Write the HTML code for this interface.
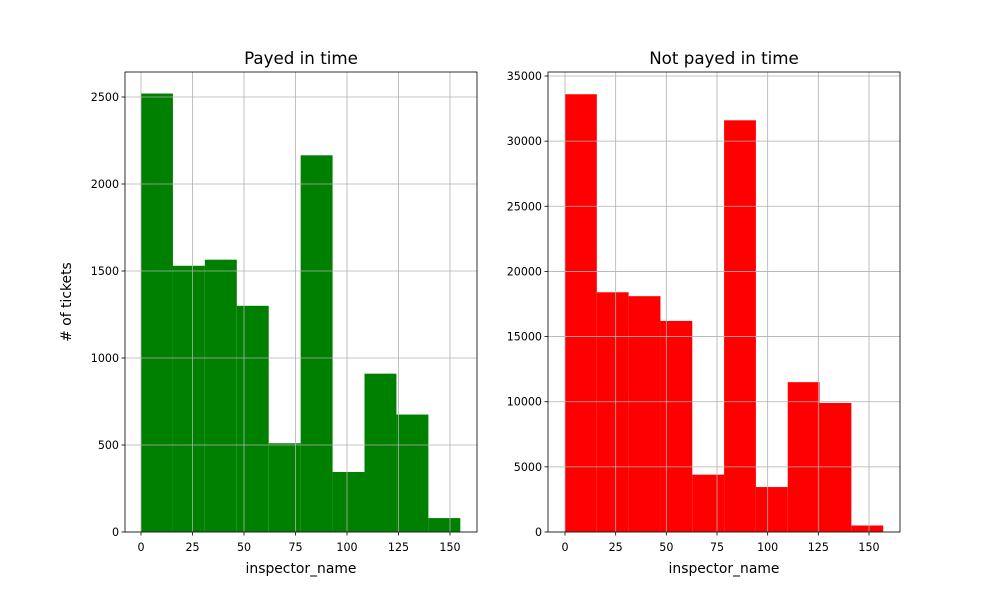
<!DOCTYPE html>
<html><head><meta charset="utf-8"><style>
body{margin:0;background:#fff;font-family:"Liberation Sans","DejaVu Sans",sans-serif;}
svg text{font-family:"DejaVu Sans","Liberation Sans",sans-serif;}
</style></head><body>
<svg id="chart" width="1000" height="598" xmlns="http://www.w3.org/2000/svg"></svg>
<script>
const leftEdges=[0,15.5,31,46.5,62,77.5,93,108.5,124,139.5,155];
const leftCounts=[2520,1530,1565,1300,510,2165,345,910,675,80];
const leftYTicks=[0,500,1000,1500,2000,2500];
const rightEdges=[0,15.7,31.4,47.1,62.8,78.5,94.2,109.9,125.6,141.3,157];
const rightCounts=[33600,18400,18100,16200,4400,31600,3450,11500,9900,500];
const rightYTicks=[0,5000,10000,15000,20000,25000,30000,35000];
const xTicks=[0,25,50,75,100,125,150];
const NS='http://www.w3.org/2000/svg';
const svg=document.getElementById('chart');
function mk(tag,attrs,parent){const e=document.createElementNS(NS,tag);for(const k in attrs)e.setAttribute(k,attrs[k]);(parent||svg).appendChild(e);return e;}
function panel(cfg){
  const g=mk('g',{});
  
  
  const L=cfg.x0,R=cfg.x1,T=72,B=532;
  const xs=v=>cfg.px0+(v-0)*(cfg.px150-cfg.px0)/150;
  const ys=v=>B-v*cfg.ky;
  for(let i=0;i<cfg.counts.length;i++){
    const r=mk('rect',{x:xs(cfg.edges[i]),y:ys(cfg.counts[i]),width:xs(cfg.edges[i+1])-xs(cfg.edges[i]),height:B-ys(cfg.counts[i]),fill:cfg.color},g);
    
    
  }
  xTicks.forEach(t=>{const x=xs(t);
    mk('line',{x1:x,x2:x,y1:T,y2:B,stroke:'#b0b0b0','stroke-width':0.8},g);
    mk('line',{x1:x,x2:x,y1:B,y2:B+3.5,stroke:'#000','stroke-width':0.8},g);
    const tx=mk('text',{x:x,y:B+19,'text-anchor':'middle','font-size':11.1},g);tx.textContent=t;
    });
  cfg.yTicks.forEach(t=>{const y=ys(t);
    mk('line',{x1:L,x2:R,y1:y,y2:y,stroke:'#b0b0b0','stroke-width':0.8},g);
    mk('line',{x1:L-3.5,x2:L,y1:y,y2:y,stroke:'#000','stroke-width':0.8},g);
    const tx=mk('text',{x:L-6,y:y+4,'text-anchor':'end','font-size':11.1},g);tx.textContent=t;
    });
  mk('rect',{x:L,y:T,width:R-L,height:B-T,fill:'none',stroke:'#000','stroke-width':0.8},g);
  const ti=mk('text',{x:(L+R)/2,y:T-8,'text-anchor':'middle','font-size':16.7},g);ti.textContent=cfg.title;
  
  const xl=mk('text',{x:(L+R)/2,y:573,'text-anchor':'middle','font-size':13.9},g);xl.textContent='inspector_name';
  
  if(cfg.ylabel){const yl=mk('text',{x:71,y:(T+B)/2,'text-anchor':'middle','font-size':13.9,transform:`rotate(-90 71 ${(T+B)/2})`},g);yl.textContent=cfg.ylabel;
    }
}
panel({name:'payed-panel',x0:125,x1:477,px0:141,px150:450,ky:435/2500,edges:leftEdges,counts:leftCounts,yTicks:leftYTicks,color:'#008000',title:'Payed in time',ylabel:'# of tickets'});
panel({name:'not-payed-panel',x0:548,x1:900,px0:565,px150:869,ky:456/35000,edges:rightEdges,counts:rightCounts,yTicks:rightYTicks,color:'#ff0000',title:'Not payed in time'});
</script>
</body></html>
